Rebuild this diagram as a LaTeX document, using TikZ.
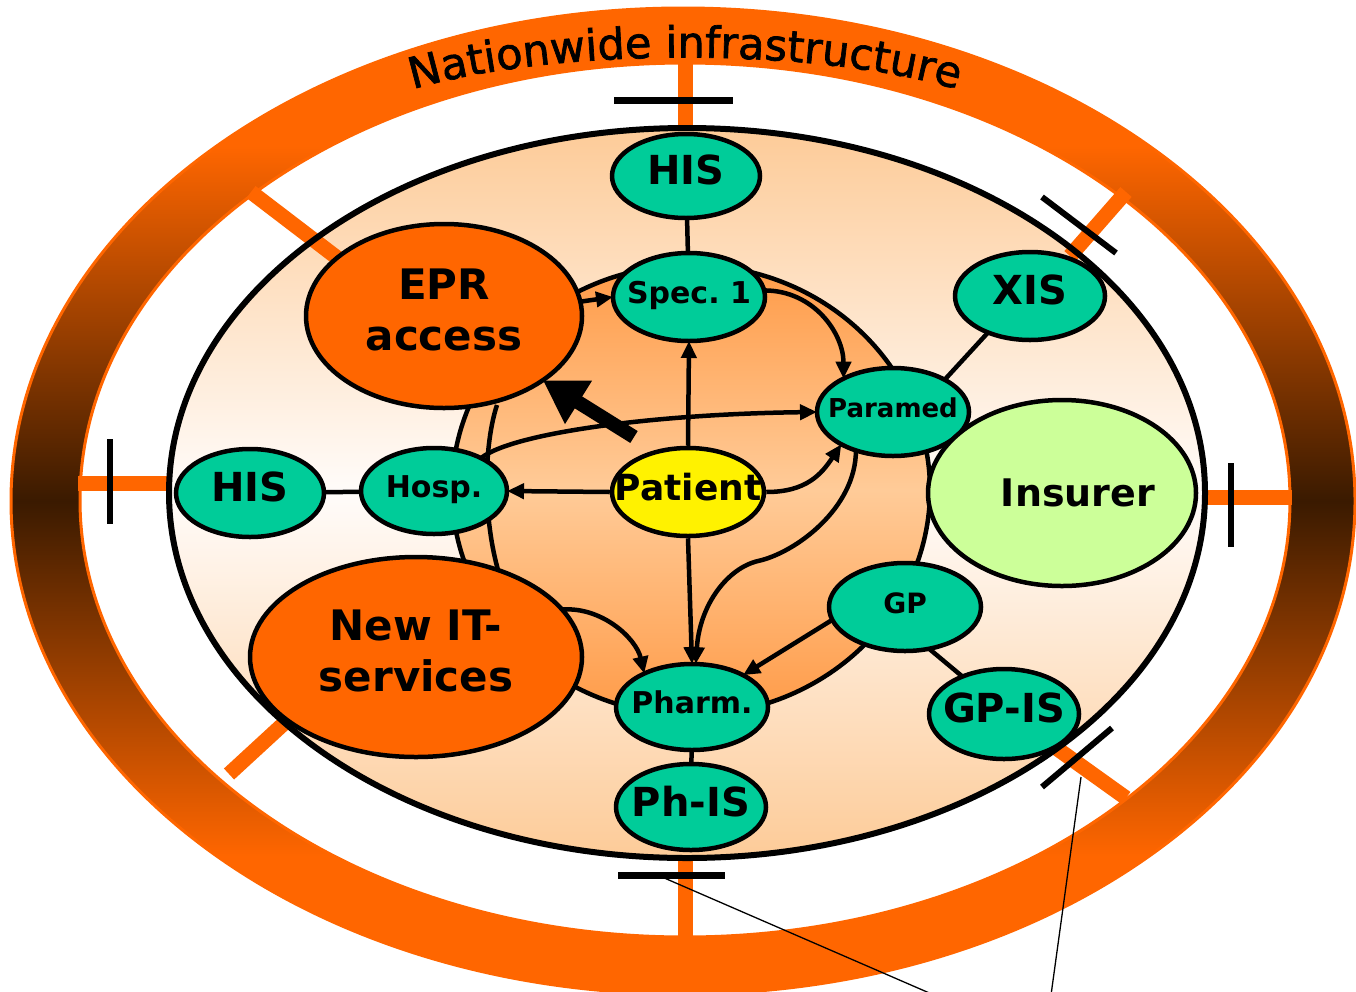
\documentclass[tikz,border=0pt]{standalone}
\usepackage{fontspec}
\setmainfont{DejaVu Sans}
\newfontfamily\titlefont[FakeBold=1.6]{DejaVu Sans}
\usetikzlibrary{shapes.geometric,arrows.meta,decorations.text}
\definecolor{nodegreen}{RGB}{0,204,153}
\definecolor{eorange}{RGB}{255,102,0}
\definecolor{darkbrown}{RGB}{58,26,0}
\definecolor{peach}{RGB}{253,203,152}
\definecolor{paleband}{RGB}{255,252,250}
\definecolor{innerorange}{RGB}{255,155,72}
\definecolor{innerlight}{RGB}{255,203,152}
\definecolor{insurergreen}{RGB}{204,255,153}
\pgfdeclareverticalshading{bandshade}{100bp}{color(0bp)=(eorange); color(32bp)=(eorange); color(50bp)=(darkbrown); color(68bp)=(eorange); color(100bp)=(eorange)}
\newcommand\fsz[1]{\fontsize{#1}{#1}\selectfont\bfseries}
\newcommand\lbl[1]{\makebox[0pt]{\begin{tabular}{@{}c@{}}#1\end{tabular}}}
\begin{document}
\begin{tikzpicture}[x=1pt,y=-1pt,
  gnode/.style={ellipse, draw, line width=4.5pt, fill=nodegreen, inner sep=0pt, outer sep=0pt},
  onode/.style={ellipse, draw, line width=4.5pt, fill=eorange, inner sep=0pt, outer sep=0pt},
  link/.style={line width=4.5pt},
  conn/.style={line width=4.5pt, -{Triangle[length=17pt,width=15pt]}},
  spoke/.style={draw=eorange, line width=15pt},
  bar/.style={draw=black, line width=6pt},
  pointer/.style={draw=black, line width=1.3pt}]
\useasboundingbox (0,0) rectangle (1356,991);
% ring
\path[shade, shading=bandshade, draw=eorange, line width=3pt] (683,501) ellipse [x radius=672, y radius=493];
\path[fill=white, draw=eorange, line width=3pt] (685,500) ellipse [x radius=605, y radius=437];
% main ellipse fill
\path[top color=peach, bottom color=peach, middle color=paleband] (687,493) ellipse [x radius=518, y radius=365];
% spokes
\draw[spoke] (685,60) -- (685,126);
\draw[spoke] (685,860) -- (685,940);
\draw[spoke] (78,483) -- (170,483);
\draw[spoke] (1205,497) -- (1292,497);
\draw[spoke] (251,192) -- (340,260);
\draw[spoke] (229,774) -- (292,716);
\draw[spoke] (1126,192) -- (1070,256);
\draw[spoke] (1126,798) -- (1052,745);
\draw[line width=6pt] (687,493) ellipse [x radius=518, y radius=365];
% bars
\draw[bar, line width=7pt] (614,100) -- (733,100);
\draw[bar, line width=7pt] (618,875) -- (725,875);
\draw[bar] (110,439) -- (110,524);
\draw[bar] (1231,463) -- (1231,547);
\draw[bar] (1042,197) -- (1116,253);
\draw[bar] (1042,787) -- (1112,728);
% pointers
\coordinate (pa1) at (662,877);
\coordinate (pa2) at (934,995);
\coordinate (pb1) at (1081,777);
\coordinate (pb2) at (1051,995);
\draw[pointer] (pa1) -- (pa2);
\draw[pointer] (pb1) -- (pb2);
% inner ellipse
\path[draw, line width=4.5pt, top color=innerorange, bottom color=innerorange, middle color=innerlight] (691,490) ellipse [x radius=239, y radius=225];
\draw[line width=4.5pt] (497,405) .. controls (482,450) and (482,540) .. (508,598);
% nodes
\node[gnode, minimum width=148pt, minimum height=84pt, font=\fsz{40}] (histop) at (686,176) {\lbl{HIS}};
\node[gnode, minimum width=152pt, minimum height=88pt, font=\fsz{30}] (spec) at (689,297) {\lbl{Spec.~1}};
\node[gnode, minimum width=150pt, minimum height=88pt, font=\fsz{40}] (xis) at (1030,296) {\lbl{XIS}};
\node[onode, minimum width=276pt, minimum height=184pt, font=\fsz{42}] (epr) at (444,316) {\lbl{EPR\\[9pt]access}};
\node[gnode, minimum width=152pt, minimum height=88pt, font=\fsz{26}] (paramed) at (893,412) {\lbl{Paramed}};
\node[gnode, minimum width=148pt, minimum height=88pt, font=\fsz{40}] (hisleft) at (250,493) {\lbl{HIS}};
\node[gnode, minimum width=146pt, minimum height=86pt, font=\fsz{30}] (hosp) at (434,491) {\lbl{Hosp.}};
\node[ellipse, draw, line width=4.5pt, fill=yellow, inner sep=0pt, minimum width=152pt, minimum height=88pt, font=\fsz{36}] (patient) at (688,492) {\lbl{Patient}};
\node[ellipse, draw, line width=4.5pt, fill=insurergreen, inner sep=0pt, minimum width=268pt, minimum height=186pt, font=\fsz{38}] (insurer) at (1062,493) {\makebox[0pt]{\hspace*{32pt}Insurer}};
\node[gnode, minimum width=152pt, minimum height=88pt, font=\fsz{28}] (gp) at (905,607) {\lbl{GP}};
\node[onode, minimum width=332pt, minimum height=200pt, font=\fsz{42}] (newit) at (416,657) {\lbl{New IT-\\[7pt]services}};
\node[gnode, minimum width=152pt, minimum height=86pt, font=\fsz{30}] (pharm) at (692,707) {\lbl{Pharm.}};
\node[gnode, minimum width=150pt, minimum height=90pt, font=\fsz{40}] (gpis) at (1004,714) {\lbl{GP-IS}};
\node[gnode, minimum width=150pt, minimum height=86pt, font=\fsz{40}] (phis) at (691,807) {\lbl{Ph-IS}};
% plain links
\draw[link] (histop) -- (spec);
\draw[link] (xis.221) -- (paramed.32);
\draw[link] (hisleft) -- (hosp);
\draw[link] (gp.300) -- (gpis.138);
\draw[link] (pharm) -- (phis);
% arrows
\draw[conn] (patient.west) -- (hosp.east);
\draw[conn] (patient.north) -- (spec.south);
\draw[conn] (patient.south) -- (pharm.north);
\draw[conn] (patient.east) .. controls +(40,0) and +(-20,30) .. (paramed.212);
\draw[conn] (spec.5) .. controls +(50,0) and +(0,-45) .. (paramed.146);
\draw[conn] (epr.6) -- (spec.west);
\draw[conn] (hosp.35) .. controls +(31,-25) and +(-163,2) .. (paramed.west);
\coordinate (bend) at (758,561);
\draw[conn] (paramed.226) .. controls +(0,58) and +(37,-8) .. (bend) .. controls +(-30,7) and +(4,-60) .. (pharm.85);
\draw[conn] (newit.18) .. controls +(40,-3) and +(-8,-35) .. (pharm.145);
\draw[conn] (gp.190) -- (pharm.32);
\coordinate (thicktail) at (634,437);
\draw[line width=14pt, -{Triangle[length=42pt,width=48pt]}] (thicktail) -- (epr.327);
% title
\path[decorate, decoration={text along path, text align=center, text={|\titlefont\fontsize{43}{43}\selectfont|Nationwide infrastructure}}] (395,95) .. controls (540,45) and (830,45) .. (975,95);
\end{tikzpicture}
\end{document}
